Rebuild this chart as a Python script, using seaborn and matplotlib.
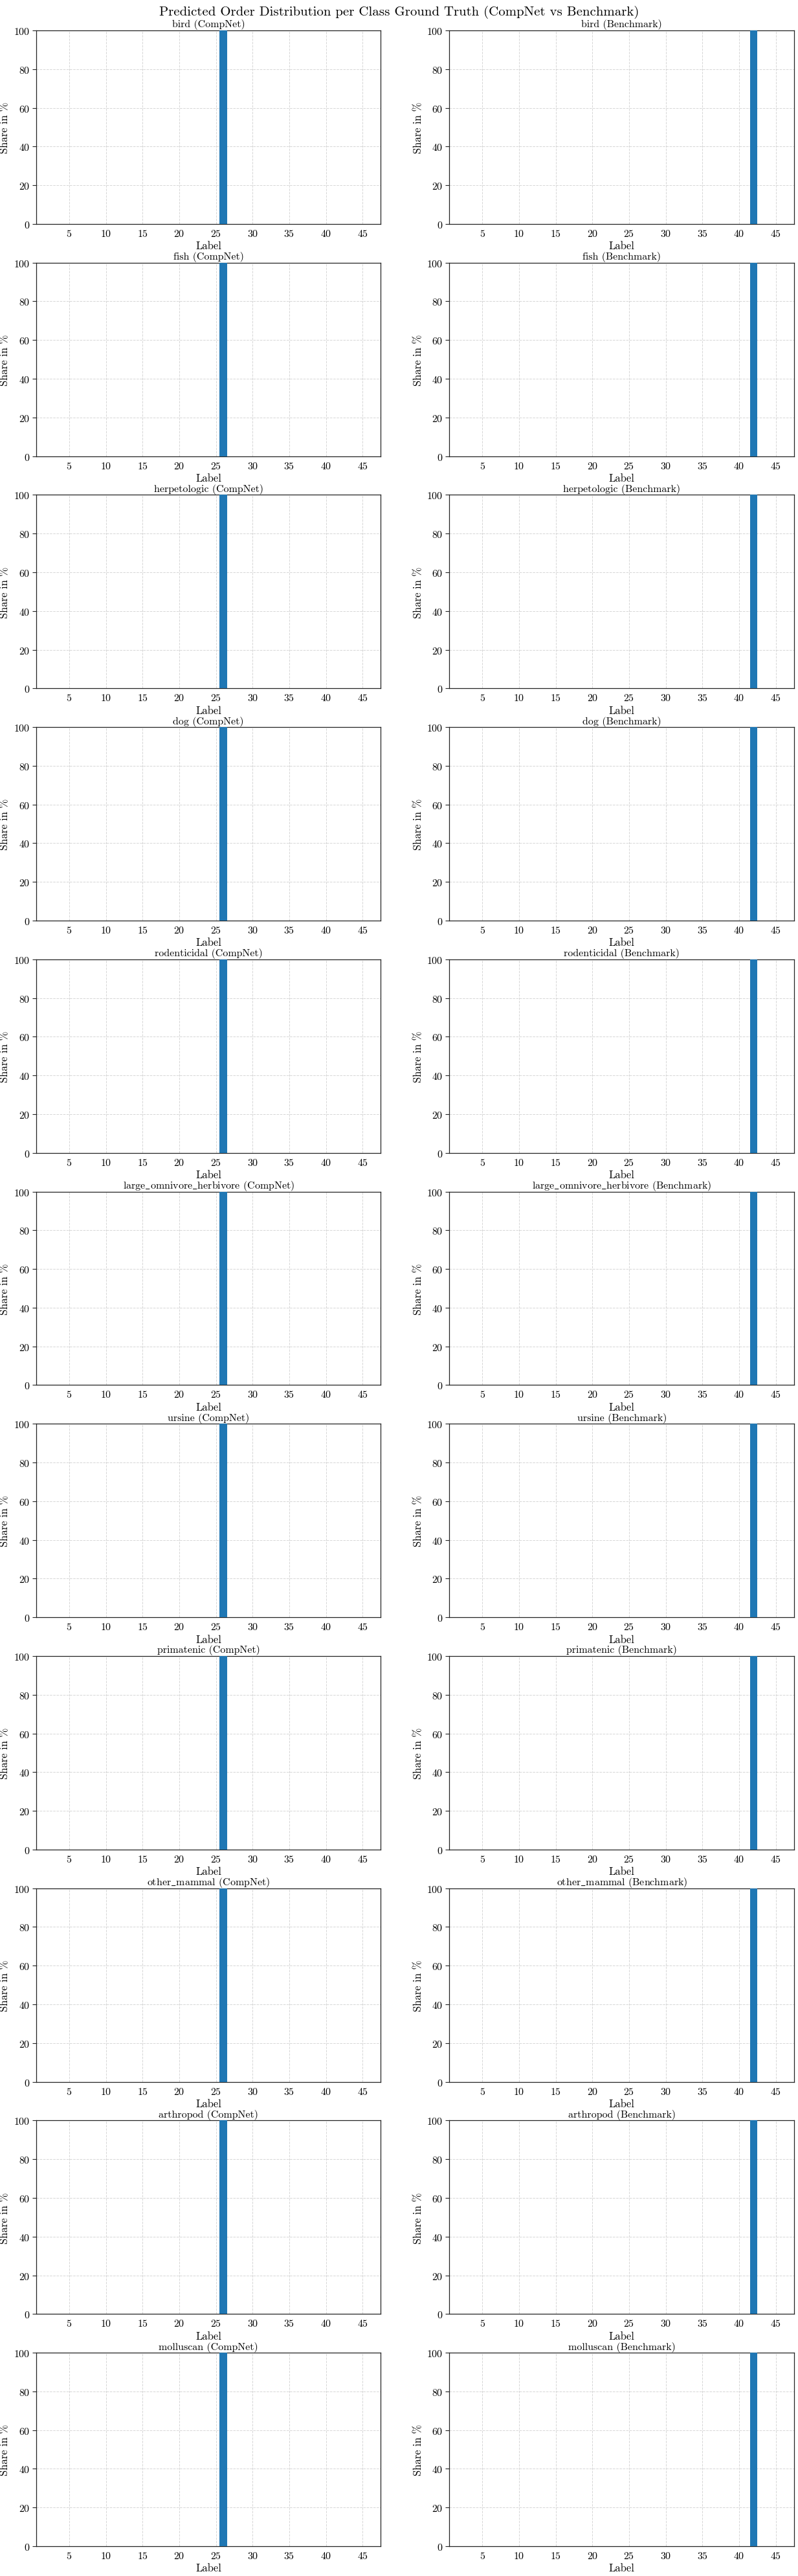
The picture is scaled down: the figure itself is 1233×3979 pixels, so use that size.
import matplotlib
matplotlib.use("Agg")
import matplotlib.pyplot as plt
import seaborn as sns
import pandas as pd

# ---------------- data ----------------
classes = ["bird", "fish", "herpetologic", "dog", "rodenticidal",
           "large_omnivore_herbivore", "ursine", "primatenic",
           "other_mammal", "arthropod", "molluscan"]
labels = list(range(1, 48))
# share (%) of predictions per label, identical for every class
compnet_share = [0, 0, 0, 0, 0, 0, 0, 0, 0, 0,
                 0, 0, 0, 0, 0, 0, 0, 0, 0, 0,
                 0, 0, 0, 0, 0, 100, 0, 0, 0, 0,
                 0, 0, 0, 0, 0, 0, 0, 0, 0, 0,
                 0, 0, 0, 0, 0, 0, 0]
benchmark_share = [0, 0, 0, 0, 0, 0, 0, 0, 0, 0,
                   0, 0, 0, 0, 0, 0, 0, 0, 0, 0,
                   0, 0, 0, 0, 0, 0, 0, 0, 0, 0,
                   0, 0, 0, 0, 0, 0, 0, 0, 0, 0,
                   0, 100, 0, 0, 0, 0, 0]
models = ["CompNet", "Benchmark"]
xticks = [5, 10, 15, 20, 25, 30, 35, 40, 45]
yticks = [0, 20, 40, 60, 80, 100]

# ---------------- style ----------------
sns.set_theme(style="white")
plt.rcParams["font.family"] = ["cmr10", "DejaVu Serif"]
plt.rcParams["mathtext.fontset"] = "cm"
plt.rcParams["axes.formatter.use_mathtext"] = True
plt.rcParams["axes.unicode_minus"] = False
for key in ["text.color", "axes.labelcolor", "xtick.color", "ytick.color"]:
    plt.rcParams[key] = "black"

BLUE = "#1f77b4"

fig, axes = plt.subplots(len(classes), 2, figsize=(12.33, 39.8), dpi=100)
fig.subplots_adjust(left=0.0454, right=0.9951, top=0.98794, bottom=0.011558,
                    wspace=0.199, hspace=0.2)

for i, cls in enumerate(classes):
    for j, model in enumerate(models):
        ax = axes[i, j]
        share = compnet_share if model == "CompNet" else benchmark_share
        df = pd.DataFrame({"Label": labels, "Share": share})
        sns.barplot(data=df, x="Label", y="Share", ax=ax, native_scale=True,
                    color=BLUE, saturation=1, width=1, errorbar=None,
                    linewidth=0, zorder=3)
        ax.set_xlim(0.5, 47.5)
        ax.set_ylim(0, 100)
        ax.set_xticks(xticks)
        ax.set_yticks(yticks)
        shown = cls.replace("_", r"$\_$")
        ax.set_title(f"{shown} ({model})", fontsize=11.5, pad=4, color="black")
        ax.set_xlabel("Label", fontsize=12, labelpad=3)
        ax.set_ylabel("Share in %", fontsize=12, labelpad=4)
        ax.tick_params(axis="both", labelsize=11.5)
        ax.tick_params(axis="x", length=0, pad=5)
        ax.tick_params(axis="y", length=4, width=0.8, color="#222222", left=True, pad=3)
        ax.grid(True, linestyle="--", color="#cccccc", linewidth=0.7, alpha=0.8, zorder=0)
        ax.set_axisbelow(True)
        for s in ax.spines.values():
            s.set_color("#222222")
            s.set_linewidth(0.9)

fig.suptitle("Predicted Order Distribution per Class Ground Truth (CompNet vs Benchmark)",
             fontsize=15, y=0.9953, va="center", color="black")

fig.savefig("out.png", dpi=100)
